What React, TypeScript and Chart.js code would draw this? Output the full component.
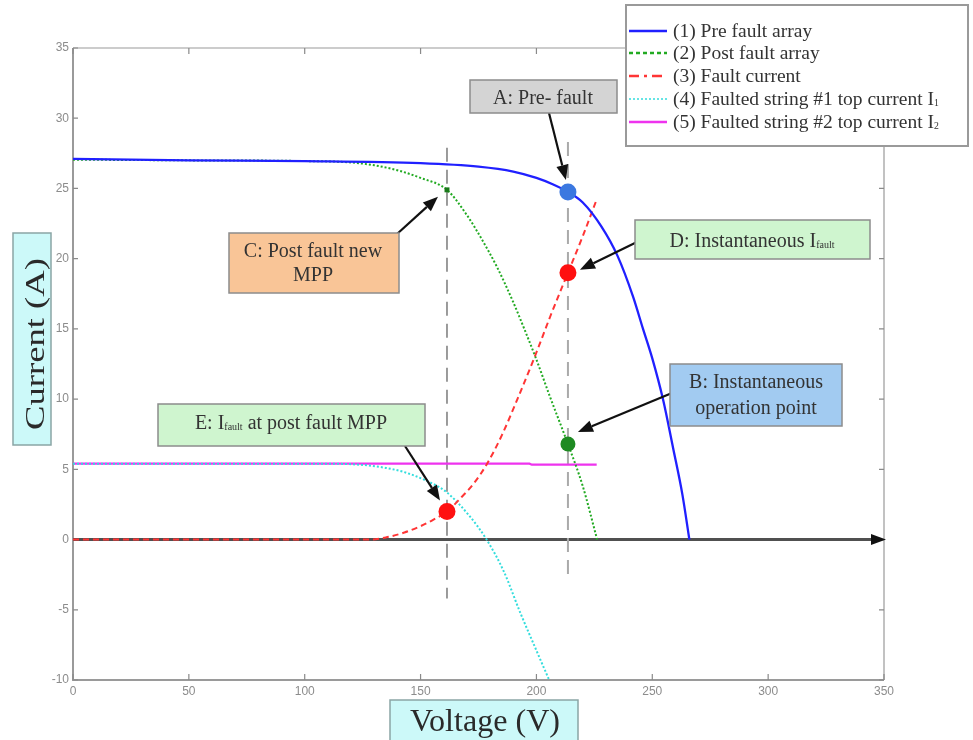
import React, { useEffect, useRef } from "react";
import { Chart, registerables } from "chart.js";

Chart.register(...registerables);

// ---- I–V curves (voltage in V, current in A) ----
const preFaultV = [0, 50, 100, 150, 175, 190, 200, 207, 213.6, 220, 228, 235, 241.7, 246, 250, 254.6, 259, 263, 266];
const preFaultI = [27.1, 27.0, 26.95, 26.8, 26.55, 26.2, 25.75, 25.3, 24.75, 24.0, 22.3, 20.2, 17.3, 15.0, 12.9, 10.0, 6.5, 3.2, 0];

const postFaultV = [0, 50, 100, 120, 130, 141, 150, 161.4, 170, 176, 183, 190, 195, 199.8, 206, 213.6, 220, 226.2];
const postFaultI = [27.05, 27.0, 26.95, 26.85, 26.65, 26.25, 25.75, 24.9, 23.1, 21.5, 19.4, 16.9, 14.9, 12.9, 10.1, 6.8, 3.8, 0];

const faultV = [0, 50, 100, 128, 135, 143, 150, 155.4, 161.4, 167, 173, 178.7, 185, 191.8, 199, 206, 213.6, 220, 226.2];
const faultI = [0, 0, 0, 0, 0.15, 0.5, 0.95, 1.4, 2.0, 2.9, 4.0, 5.4, 7.4, 10.0, 12.9, 15.9, 19.0, 21.6, 24.3];

const string1V = [0, 50, 110, 126, 135, 143, 151, 161, 171, 178.5, 186, 193, 200, 205.5];
const string1I = [5.4, 5.4, 5.4, 5.3, 5.1, 4.8, 4.3, 3.4, 1.7, 0, -2.3, -5.2, -7.9, -10];

const string2V = [0, 100, 197, 198, 226];
const string2I = [5.4, 5.4, 5.4, 5.33, 5.33];

// ---- marked operating points ----
const markerNames = ["A", "B", "C", "D", "E"];
const markerVoltage = [213.6, 213.6, 161.4, 213.6, 161.4];
const markerCurrent = [24.75, 6.8, 24.9, 19.0, 2.0];

// ---- vertical guides at the post-fault MPP and the instantaneous operating voltage ----
const guideVoltage = [161.4, 213.6];
const guideTop = [27.9, 28.3];
const guideBottom = [-4.2, -2.7];

// ---- axes ----
const xTicks = [0, 50, 100, 150, 200, 250, 300, 350];
const yTicks = [-10, -5, 0, 5, 10, 15, 20, 25, 30, 35];

const legendLabels = [
  [{ t: "(1) Pre fault array" }],
  [{ t: "(2) Post fault array" }],
  [{ t: "(3) Fault current" }],
  [{ t: "(4) Faulted string #1 top current I" }, { t: "1", sub: true }],
  [{ t: "(5) Faulted string #2 top current I" }, { t: "2", sub: true }],
];

type Seg = { t: string; sub?: boolean };

const SERIF = '"Liberation Serif", "Times New Roman", serif';
const SANS = '"Liberation Sans", Arial, sans-serif';

const zip = (xs: number[], ys: number[]) => xs.map((x, i) => ({ x, y: ys[i] }));

function richWidth(ctx: CanvasRenderingContext2D, segs: Seg[], size: number) {
  let w = 0;
  for (const s of segs) {
    ctx.font = `${s.sub ? size * 0.5 : size}px ${SERIF}`;
    w += ctx.measureText(s.t).width;
  }
  return w;
}

function drawRich(ctx: CanvasRenderingContext2D, segs: Seg[], x: number, y: number, size: number, align: "center" | "left") {
  const w = richWidth(ctx, segs, size);
  let cx = align === "center" ? x - w / 2 : x;
  ctx.textAlign = "left";
  ctx.textBaseline = "alphabetic";
  for (const s of segs) {
    ctx.font = `${s.sub ? size * 0.5 : size}px ${SERIF}`;
    ctx.fillText(s.t, cx, s.sub ? y + size * 0.05 : y);
    cx += ctx.measureText(s.t).width;
  }
}

function arrow(ctx: CanvasRenderingContext2D, x0: number, y0: number, x1: number, y1: number) {
  const a = Math.atan2(y1 - y0, x1 - x0);
  const len = 15;
  const hw = 6;
  const bx = x1 - len * Math.cos(a);
  const by = y1 - len * Math.sin(a);
  ctx.save();
  ctx.strokeStyle = "#111";
  ctx.fillStyle = "#111";
  ctx.lineWidth = 2.2;
  ctx.setLineDash([]);
  ctx.beginPath();
  ctx.moveTo(x0, y0);
  ctx.lineTo(bx, by);
  ctx.stroke();
  ctx.beginPath();
  ctx.moveTo(x1, y1);
  ctx.lineTo(bx + hw * Math.sin(a), by - hw * Math.cos(a));
  ctx.lineTo(bx - hw * Math.sin(a), by + hw * Math.cos(a));
  ctx.closePath();
  ctx.fill();
  ctx.restore();
}

// callout boxes: rectangle, text lines, arrow tail and tip offset from the marker
const callouts = [
  { marker: "A", rect: [470, 80, 147, 33], fill: "#d4d4d4", lines: [[{ t: "A: Pre- fault" }]], cx: 543, base: [104], tail: [549, 113], tip: [-2, -12] },
  { marker: "C", rect: [229, 233, 170, 60], fill: "#f9c597", lines: [[{ t: "C: Post fault new" }], [{ t: "MPP" }]], cx: 313, base: [257, 281], tail: [397, 234], tip: [-9, 7] },
  { marker: "D", rect: [635, 220, 235, 39], fill: "#cff5cf", lines: [[{ t: "D: Instantaneous I" }, { t: "fault", sub: true }]], cx: 752, base: [247], tail: [637, 242], tip: [12, -3] },
  { marker: "B", rect: [670, 364, 172, 62], fill: "#a2cbf1", lines: [[{ t: "B: Instantaneous" }], [{ t: "operation point" }]], cx: 756, base: [388, 414], tail: [672, 393], tip: [10, -12] },
  { marker: "E", rect: [158, 404, 267, 42], fill: "#cff5cf", lines: [[{ t: "E: I" }, { t: "fault", sub: true }, { t: " at post fault MPP" }]], cx: 291, base: [429], tail: [405, 446], tip: [-7, -11] },
];

const legendStyles = [
  { color: "#2020ff", dash: [] as number[], width: 2.5 },
  { color: "#22aa22", dash: [4, 3], width: 2.5 },
  { color: "#ff3535", dash: [10, 5, 3, 5], width: 2.5 },
  { color: "#33dddd", dash: [2, 2], width: 1.5 },
  { color: "#ee33ee", dash: [] as number[], width: 2.5 },
];

const overlay = {
  id: "overlay",
  beforeDatasetsDraw(chart: any) {
    const { ctx, chartArea: a, scales } = chart;
    const xs = scales.x;
    const ys = scales.y;
    ctx.save();
    // frame
    ctx.strokeStyle = "#9a9a9a";
    ctx.lineWidth = 2;
    ctx.beginPath();
    ctx.moveTo(a.left, a.top);
    ctx.lineTo(a.left, a.bottom);
    ctx.lineTo(a.right, a.bottom);
    ctx.stroke();
    ctx.lineWidth = 1.2;
    ctx.beginPath();
    ctx.moveTo(a.left, a.top);
    ctx.lineTo(a.right, a.top);
    ctx.lineTo(a.right, a.bottom);
    ctx.stroke();
    // inward tick marks on all four sides
    ctx.strokeStyle = "#8a8a8a";
    ctx.lineWidth = 1.2;
    ctx.beginPath();
    for (const v of yTicks) {
      const y = ys.getPixelForValue(v);
      ctx.moveTo(a.left, y);
      ctx.lineTo(a.left + 5, y);
      ctx.moveTo(a.right, y);
      ctx.lineTo(a.right - 5, y);
    }
    for (const v of xTicks) {
      const x = xs.getPixelForValue(v);
      ctx.moveTo(x, a.bottom);
      ctx.lineTo(x, a.bottom - 6);
      ctx.moveTo(x, a.top);
      ctx.lineTo(x, a.top + 6);
    }
    ctx.stroke();
    // tick labels
    ctx.fillStyle = "#8c8c8c";
    ctx.font = `12px ${SANS}`;
    ctx.textAlign = "right";
    ctx.textBaseline = "middle";
    for (const v of yTicks) ctx.fillText(String(v), a.left - 4, ys.getPixelForValue(v));
    ctx.textAlign = "center";
    ctx.textBaseline = "top";
    for (const v of xTicks) ctx.fillText(String(v), xs.getPixelForValue(v), a.bottom + 6);
    // zero-current axis with arrow head
    const y0 = ys.getPixelForValue(0);
    ctx.strokeStyle = "#505050";
    ctx.lineWidth = 3;
    ctx.beginPath();
    ctx.moveTo(a.left, y0);
    ctx.lineTo(a.right - 8, y0);
    ctx.stroke();
    ctx.fillStyle = "#111";
    ctx.beginPath();
    ctx.moveTo(a.right + 2, y0);
    ctx.lineTo(a.right - 13, y0 - 5.5);
    ctx.lineTo(a.right - 13, y0 + 5.5);
    ctx.closePath();
    ctx.fill();
    ctx.restore();
  },
  afterDatasetsDraw(chart: any) {
    const { ctx, scales } = chart;
    const xs = scales.x;
    const ys = scales.y;
    ctx.save();
    for (const c of callouts) {
      const k = markerNames.indexOf(c.marker);
      const mx = xs.getPixelForValue(markerVoltage[k]);
      const my = ys.getPixelForValue(markerCurrent[k]);
      arrow(ctx, c.tail[0], c.tail[1], mx + c.tip[0], my + c.tip[1]);
      const [rx, ry, rw, rh] = c.rect;
      ctx.fillStyle = c.fill;
      ctx.fillRect(rx, ry, rw, rh);
      ctx.strokeStyle = "#8c8c8c";
      ctx.lineWidth = 1.5;
      ctx.strokeRect(rx, ry, rw, rh);
      ctx.fillStyle = "#333";
      c.lines.forEach((segs, i) => drawRich(ctx, segs as Seg[], c.cx, c.base[i], 20, "center"));
    }
    ctx.restore();
  },
  afterDraw(chart: any) {
    const { ctx } = chart;
    ctx.save();
    // axis titles in tinted boxes
    ctx.fillStyle = "#ccf9f9";
    ctx.strokeStyle = "#8aa5a5";
    ctx.lineWidth = 1.5;
    ctx.fillRect(13, 233, 38, 212);
    ctx.strokeRect(13, 233, 38, 212);
    ctx.fillRect(390, 700, 188, 50);
    ctx.strokeRect(390, 700, 188, 50);
    ctx.fillStyle = "#2a2a2a";
    ctx.textAlign = "center";
    ctx.textBaseline = "alphabetic";
    ctx.font = `27px ${SERIF}`;
    ctx.save();
    ctx.translate(44, 344);
    ctx.rotate(-Math.PI / 2);
    const cw = ctx.measureText("Current (A)").width;
    ctx.scale(172 / cw, 1);
    ctx.fillText("Current (A)", 0, 0);
    ctx.restore();
    ctx.save();
    ctx.font = `31px ${SERIF}`;
    const vw = ctx.measureText("Voltage (V)").width;
    ctx.translate(485, 731);
    ctx.scale(150 / vw, 1);
    ctx.fillText("Voltage (V)", 0, 0);
    ctx.restore();

    // legend
    ctx.fillStyle = "#ffffff";
    ctx.fillRect(626, 5, 342, 141);
    ctx.strokeStyle = "#9a9a9a";
    ctx.lineWidth = 2;
    ctx.strokeRect(626, 5, 342, 141);
    const rows = [31, 53, 76, 99, 122];
    legendStyles.forEach((s, i) => {
      ctx.strokeStyle = s.color;
      ctx.lineWidth = s.width;
      ctx.setLineDash(s.dash);
      ctx.beginPath();
      ctx.moveTo(629, rows[i]);
      ctx.lineTo(667, rows[i]);
      ctx.stroke();
      ctx.setLineDash([]);
      ctx.fillStyle = "#333";
      drawRich(ctx, legendLabels[i] as Seg[], 673, rows[i] + 6, 19.5, "left");
    });
    ctx.restore();
  },
};

export default function App() {
  const ref = useRef<HTMLCanvasElement | null>(null);

  useEffect(() => {
    if (!ref.current) return;
    const chart = new Chart(ref.current, {
      type: "scatter",
      data: {
        datasets: [
          {
            label: "markers",
            data: zip(markerVoltage, markerCurrent),
            pointStyle: ["circle", "circle", "rect", "circle", "circle"],
            pointRadius: [8.5, 7.5, 3.5, 8.5, 8.5],
            pointBackgroundColor: ["#3b78e0", "#1e8a22", "#1a7a1a", "#ff1010", "#ff1010"],
            pointBorderColor: ["#3b78e0", "#1e8a22", "#1a7a1a", "#ff1010", "#ff1010"],
            pointBorderWidth: 0,
            showLine: false,
            order: 0,
          },
          {
            label: "(1) Pre fault array",
            data: zip(preFaultV, preFaultI),
            showLine: true,
            borderColor: "#2020ff",
            borderWidth: 2.3,
            pointRadius: 0,
            cubicInterpolationMode: "monotone",
            order: 1,
          },
          {
            label: "(3) Fault current",
            data: zip(faultV, faultI),
            showLine: true,
            borderColor: "#ff3535",
            borderWidth: 2,
            borderDash: [6, 4],
            pointRadius: 0,
            cubicInterpolationMode: "monotone",
            order: 2,
          },
          {
            label: "(2) Post fault array",
            data: zip(postFaultV, postFaultI),
            showLine: true,
            borderColor: "#22aa22",
            borderWidth: 2,
            borderDash: [2, 2],
            pointRadius: 0,
            cubicInterpolationMode: "monotone",
            order: 3,
          },
          {
            label: "(4) Faulted string #1 top current",
            data: zip(string1V, string1I),
            showLine: true,
            borderColor: "#33dddd",
            borderWidth: 2,
            borderDash: [2, 2],
            pointRadius: 0,
            cubicInterpolationMode: "monotone",
            order: 4,
          },
          {
            label: "(5) Faulted string #2 top current",
            data: zip(string2V, string2I),
            showLine: true,
            borderColor: "#ee33ee",
            borderWidth: 2.3,
            pointRadius: 0,
            order: 5,
          },
          ...guideVoltage.map((v, i) => ({
            label: `guide ${i}`,
            data: [
              { x: v, y: guideTop[i] },
              { x: v, y: guideBottom[i] },
            ],
            showLine: true,
            borderColor: i === 0 ? "#666" : "#aaa",
            borderWidth: i === 0 ? 1.3 : 2,
            borderDash: [14, 8],
            pointRadius: 0,
            order: 10,
          })),
        ],
      },
      options: {
        animation: false,
        responsive: false,
        devicePixelRatio: 1,
        layout: { padding: { top: 48, right: 89, left: 0, bottom: 0 } },
        plugins: { legend: { display: false }, tooltip: { enabled: false } },
        scales: {
          x: {
            type: "linear",
            min: xTicks[0],
            max: xTicks[xTicks.length - 1],
            afterBuildTicks: (s: any) => {
              s.ticks = xTicks.map((v) => ({ value: v }));
            },
            afterFit: (s: any) => {
              s.height = 60;
            },
            grid: { display: false },
            border: { display: false },
            ticks: { display: false },
          },
          y: {
            type: "linear",
            min: yTicks[0],
            max: yTicks[yTicks.length - 1],
            afterBuildTicks: (s: any) => {
              s.ticks = yTicks.map((v) => ({ value: v }));
            },
            afterFit: (s: any) => {
              s.width = 73;
            },
            grid: { display: false },
            border: { display: false },
            ticks: { display: false },
          },
        },
      },
      plugins: [overlay],
    } as any);
    return () => chart.destroy();
  }, []);

  return (
    <div style={{ position: "absolute", left: 0, top: 0, width: 973, height: 740, background: "#fff" }}>
      <canvas ref={ref} width={973} height={740} />
    </div>
  );
}
